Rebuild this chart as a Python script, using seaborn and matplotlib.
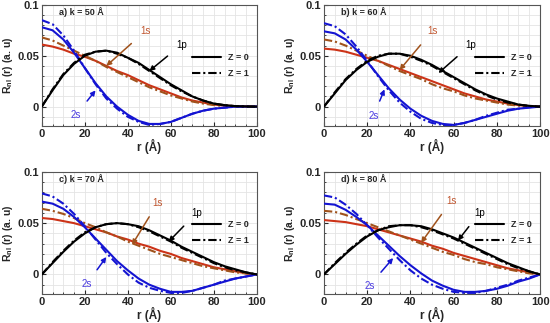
"""Radial wavefunctions R_nl(r) for 1s, 1p, 2s states, Z = 0 and Z = 1, four dot sizes."""

import matplotlib

matplotlib.use("Agg")
import matplotlib.pyplot as plt
import numpy as np
import pandas as pd
import seaborn as sns
from matplotlib.lines import Line2D
from matplotlib.ticker import MultipleLocator

r = list(range(0, 101, 5))

panel_labels = ["a) k = 50 Å", "b) k = 60 Å", "c) k = 70 Å", "d) k = 80 Å"]

# 1s
s1_z0 = [
    [0.061, 0.059, 0.056, 0.052, 0.049, 0.045, 0.040, 0.035, 0.031, 0.026, 0.021,
     0.017, 0.013, 0.009, 0.006, 0.004, 0.002, 0.001, 0.0005, 0.0002, 0.0],
    [0.057, 0.056, 0.054, 0.051, 0.048, 0.045, 0.041, 0.037, 0.033, 0.029, 0.025,
     0.021, 0.017, 0.013, 0.010, 0.007, 0.005, 0.003, 0.0015, 0.0005, 0.0],
    [0.055, 0.054, 0.052, 0.050, 0.047, 0.044, 0.041, 0.037, 0.034, 0.030, 0.027,
     0.023, 0.020, 0.016, 0.013, 0.010, 0.007, 0.005, 0.003, 0.001, 0.0],
    [0.053, 0.052, 0.051, 0.049, 0.047, 0.044, 0.041, 0.038, 0.035, 0.032, 0.028,
     0.025, 0.021, 0.018, 0.015, 0.012, 0.009, 0.006, 0.004, 0.002, 0.0],
]
s1_z1 = [
    [0.068, 0.065, 0.060, 0.055, 0.050, 0.045, 0.039, 0.034, 0.029, 0.024, 0.019,
     0.015, 0.011, 0.008, 0.005, 0.003, 0.0015, 0.0007, 0.0003, 0.0001, 0.0],
    [0.066, 0.064, 0.060, 0.055, 0.050, 0.045, 0.040, 0.035, 0.031, 0.027, 0.022,
     0.018, 0.015, 0.011, 0.008, 0.006, 0.004, 0.002, 0.001, 0.0004, 0.0],
    [0.064, 0.062, 0.059, 0.055, 0.050, 0.046, 0.041, 0.037, 0.032, 0.028, 0.024,
     0.020, 0.017, 0.014, 0.011, 0.008, 0.006, 0.004, 0.002, 0.001, 0.0],
    [0.062, 0.061, 0.058, 0.054, 0.050, 0.046, 0.042, 0.038, 0.034, 0.030, 0.026,
     0.022, 0.019, 0.015, 0.012, 0.010, 0.007, 0.005, 0.003, 0.001, 0.0],
]

# 2s
s2_z0 = [
    [0.078, 0.075, 0.066, 0.053, 0.038, 0.023, 0.010, 0.000, -0.008, -0.014, -0.017,
     -0.017, -0.015, -0.011, -0.007, -0.004, -0.002, -0.001, 0.0, 0.0, 0.0],
    [0.074, 0.072, 0.066, 0.056, 0.044, 0.031, 0.018, 0.007, -0.002, -0.009, -0.014,
     -0.017, -0.018, -0.016, -0.013, -0.010, -0.007, -0.004, -0.002, -0.001, 0.0],
    [0.071, 0.069, 0.064, 0.056, 0.046, 0.035, 0.024, 0.013, 0.004, -0.004, -0.010,
     -0.014, -0.017, -0.017, -0.016, -0.013, -0.010, -0.007, -0.004, -0.002, 0.0],
    [0.069, 0.068, 0.063, 0.056, 0.048, 0.038, 0.028, 0.018, 0.009, 0.001, -0.006,
     -0.011, -0.015, -0.017, -0.017, -0.016, -0.014, -0.011, -0.007, -0.004, 0.0],
]
s2_z1 = [
    [0.085, 0.081, 0.070, 0.055, 0.038, 0.022, 0.008, -0.002, -0.010, -0.015, -0.018,
     -0.017, -0.015, -0.011, -0.007, -0.004, -0.002, -0.001, 0.0, 0.0, 0.0],
    [0.082, 0.079, 0.071, 0.059, 0.045, 0.030, 0.016, 0.004, -0.005, -0.012, -0.016,
     -0.018, -0.018, -0.016, -0.013, -0.009, -0.006, -0.003, -0.002, -0.0005, 0.0],
    [0.079, 0.076, 0.069, 0.059, 0.047, 0.034, 0.021, 0.010, 0.000, -0.008, -0.013,
     -0.016, -0.018, -0.018, -0.016, -0.013, -0.010, -0.006, -0.004, -0.002, 0.0],
    [0.077, 0.075, 0.068, 0.059, 0.048, 0.036, 0.025, 0.014, 0.004, -0.004, -0.010,
     -0.014, -0.017, -0.018, -0.018, -0.016, -0.013, -0.010, -0.006, -0.003, 0.0],
]

# 1p
p1_z0 = [
    [0.0, 0.016, 0.031, 0.042, 0.050, 0.054, 0.055, 0.053, 0.048, 0.043, 0.036,
     0.029, 0.022, 0.016, 0.010, 0.006, 0.003, 0.0015, 0.0005, 0.0002, 0.0],
    [0.0, 0.013, 0.026, 0.036, 0.044, 0.049, 0.052, 0.052, 0.050, 0.046, 0.041,
     0.035, 0.029, 0.023, 0.017, 0.012, 0.008, 0.005, 0.002, 0.0008, 0.0],
    [0.0, 0.011, 0.022, 0.032, 0.040, 0.046, 0.049, 0.050, 0.049, 0.047, 0.043,
     0.038, 0.033, 0.027, 0.022, 0.017, 0.012, 0.008, 0.005, 0.002, 0.0],
    [0.0, 0.010, 0.020, 0.029, 0.037, 0.043, 0.046, 0.048, 0.048, 0.047, 0.044,
     0.040, 0.036, 0.031, 0.026, 0.021, 0.016, 0.011, 0.007, 0.003, 0.0],
]
p1_z1 = [
    [0.0, 0.017, 0.032, 0.043, 0.051, 0.054, 0.055, 0.052, 0.048, 0.042, 0.035,
     0.028, 0.021, 0.015, 0.010, 0.006, 0.003, 0.0014, 0.0005, 0.0001, 0.0],
    [0.0, 0.014, 0.027, 0.037, 0.045, 0.050, 0.052, 0.052, 0.049, 0.045, 0.040,
     0.034, 0.028, 0.022, 0.016, 0.011, 0.007, 0.004, 0.002, 0.0006, 0.0],
    [0.0, 0.012, 0.023, 0.033, 0.041, 0.046, 0.049, 0.050, 0.049, 0.046, 0.042,
     0.037, 0.032, 0.026, 0.021, 0.016, 0.011, 0.007, 0.004, 0.002, 0.0],
    [0.0, 0.011, 0.021, 0.030, 0.038, 0.043, 0.047, 0.048, 0.048, 0.046, 0.043,
     0.039, 0.035, 0.030, 0.025, 0.020, 0.015, 0.010, 0.006, 0.003, 0.0],
]

RED = "#cc3318"
BROWN = "#a0521c"
BLUE = "#1414d2"
BLACK = "#000000"
DASH = (0, (4, 1.4, 1, 1.4))

sns.set_style("ticks")
plt.rcParams["font.family"] = ["Liberation Sans", "DejaVu Sans"]
plt.rcParams["font.weight"] = "bold"
plt.rcParams["mathtext.default"] = "regular"

fig = plt.figure(figsize=(5.5, 3.23), dpi=100)
boxes = [
    (0.076, 0.610, 0.391, 0.375),
    (0.589, 0.610, 0.393, 0.375),
    (0.076, 0.090, 0.391, 0.378),
    (0.589, 0.090, 0.393, 0.378),
]

for i, box in enumerate(boxes):
    ax = fig.add_axes(box)
    series = [
        (s1_z0[i], RED, "-"),
        (s1_z1[i], BROWN, DASH),
        (s2_z0[i], BLUE, "-"),
        (s2_z1[i], BLUE, DASH),
        (p1_z0[i], BLACK, "-"),
        (p1_z1[i], BLACK, DASH),
    ]
    for vals, col, ls in series:
        df = pd.DataFrame({"r": r, "R": vals})
        sns.lineplot(data=df, x="r", y="R", ax=ax, color=col, lw=1.5,
                     linestyle=ls, zorder=3)

    ax.set_xlim(0, 100)
    ax.set_ylim(-0.019, 0.1)
    ax.set_xticks(np.arange(0, 101, 20))
    ax.set_yticks([0, 0.05, 0.1])
    ax.set_yticklabels(["0", "0.05", "0.1"])
    ax.xaxis.set_minor_locator(MultipleLocator(5))
    ax.yaxis.set_minor_locator(MultipleLocator(0.01))
    ax.grid(which="both", color="#e4e4e4", lw=0.6, zorder=0)
    ax.tick_params(which="both", direction="in", labelsize=8, pad=2)
    ax.tick_params(which="major", length=3)
    ax.tick_params(which="minor", length=1.5)
    for sp in ax.spines.values():
        sp.set_color("#555555")
        sp.set_linewidth(0.8)
    ax.set_xlabel("r (Å)", fontsize=8.5, fontweight="bold", labelpad=0)
    ax.set_ylabel(r"R$_{nl}$ (r) (a. u)", fontsize=7.5, fontweight="bold")
    ax.yaxis.set_label_coords(-0.125, 0.5)

    ax.text(8, 0.093, panel_labels[i], fontsize=6.5, fontweight="bold",
            va="center")

    # state labels with arrows
    s1_txt = [(48, 0.074), (50, 0.074), (54, 0.070), (59, 0.072)][i]
    s1_tip = [(30, 0.040), (35, 0.036), (42, 0.029), (45, 0.031)][i]
    p1_txt = [(65, 0.061), (68, 0.061), (72, 0.060), (72, 0.060)][i]
    p1_tip = [(50, 0.035), (53, 0.033), (59, 0.032), (62, 0.033)][i]
    s2_txt = [(16, -0.008), (23, -0.009), (21, -0.009), (21, -0.011)][i]
    s2_tip = [(25, 0.016), (28, 0.017), (30, 0.017), (32, 0.016)][i]

    ax.annotate("1s", xy=s1_tip, xytext=s1_txt, color="#c0552e", fontsize=7,
                fontweight="normal", ha="center", va="center", zorder=5,
                arrowprops=dict(arrowstyle="-|>", color=BROWN, lw=1.1,
                                shrinkA=5, shrinkB=0, mutation_scale=7))
    ax.annotate("1p", xy=p1_tip, xytext=p1_txt, color=BLACK, fontsize=7,
                fontweight="normal", ha="center", va="center", zorder=5,
                arrowprops=dict(arrowstyle="-|>", color=BLACK, lw=1.1,
                                shrinkA=5, shrinkB=0, mutation_scale=7))
    ax.annotate("2s", xy=s2_tip, xytext=s2_txt, color="#4a3ae0", fontsize=7,
                fontweight="normal", ha="center", va="center", zorder=5,
                arrowprops=dict(arrowstyle="-|>", color=BLUE, lw=1.1,
                                shrinkA=5, shrinkB=0, mutation_scale=7))

    handles = [
        Line2D([0], [0], color=BLACK, lw=1.5, linestyle="-"),
        Line2D([0], [0], color=BLACK, lw=1.5, linestyle=DASH),
    ]
    leg = ax.legend(handles, ["Z = 0", "Z = 1"], loc="center right",
                    bbox_to_anchor=(1.0, 0.50), frameon=False, fontsize=6.5,
                    handlelength=3.2, handletextpad=0.8, labelspacing=0.8)
    for t in leg.get_texts():
        t.set_fontweight("bold")

fig.savefig("out.png", dpi=100)
plt.close(fig)
